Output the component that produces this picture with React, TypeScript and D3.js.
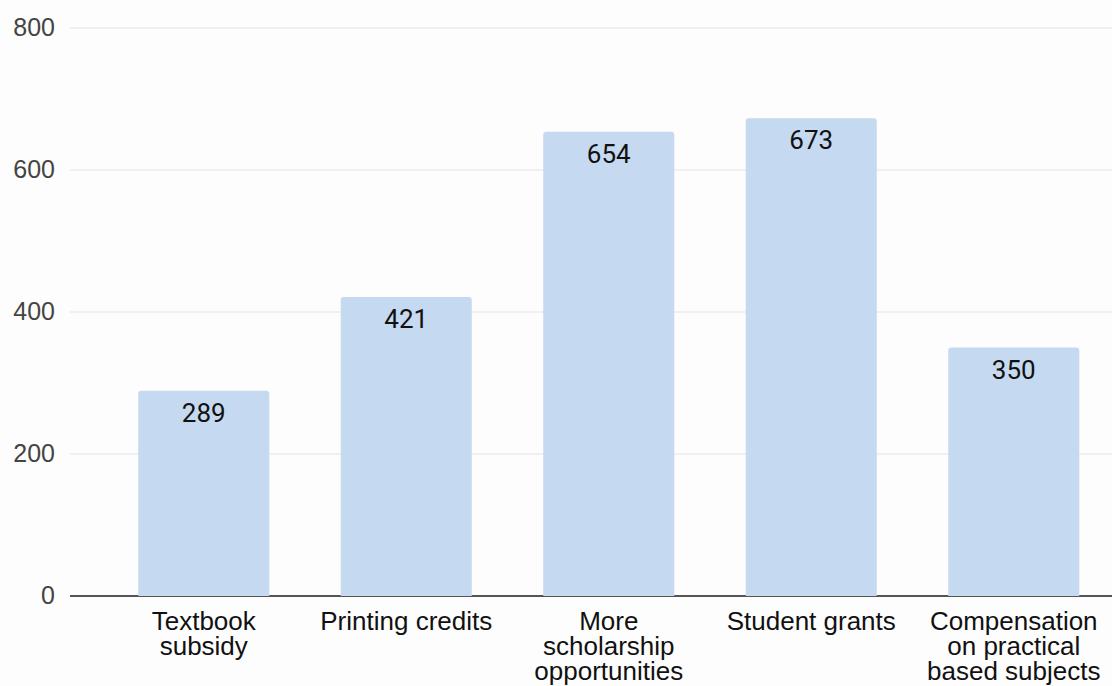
import React from "react";
import * as d3 from "d3";

const categories: string[][] = [
  ["Textbook", "subsidy"],
  ["Printing credits"],
  ["More", "scholarship", "opportunities"],
  ["Student grants"],
  ["Compensation", "on practical", "based subjects"],
];
const values: number[] = [289, 421, 654, 673, 350];
const yTicks: number[] = [0, 200, 400, 600, 800];

const W = 1112;
const H = 686;

export default function App() {
  const keys = categories.map((c) => c.join(" "));
  const x = d3.scaleBand<string>().domain(keys).range([102.5, 1115]).paddingInner(0.353).paddingOuter(0.1765);
  const y = d3.scaleLinear().domain([0, 800]).range([596, 28]);
  const r = 3;
  const barPath = (x0: number, y0: number, w: number, h: number) => {
    const p = d3.path();
    p.moveTo(x0, y0 + h);
    p.lineTo(x0, y0 + r);
    p.arcTo(x0, y0, x0 + r, y0, r);
    p.lineTo(x0 + w - r, y0);
    p.arcTo(x0 + w, y0, x0 + w, y0 + r, r);
    p.lineTo(x0 + w, y0 + h);
    p.closePath();
    return p.toString();
  };
  return (
    <svg width={W} height={H} style={{ position: "absolute", left: 0, top: 0, background: "#fdfdfd" }}>
      {yTicks.map((t) => (
        <g key={t}>
          {t !== 0 && <line x1={70} x2={W} y1={y(t)} y2={y(t)} stroke="#ebebeb" strokeWidth={1.5} />}
          <text x={55} y={y(t) + 8} textAnchor="end" fontFamily="Liberation Sans, Arial, sans-serif" fontSize={25} fill="#444">
            {t}
          </text>
        </g>
      ))}
      <line x1={70} x2={W} y1={y(0)} y2={y(0)} stroke="#555" strokeWidth={2} />
      {values.map((v, i) => {
        const k = keys[i];
        const bx = x(k)!;
        const bw = x.bandwidth();
        return (
          <g key={k}>
            <path d={barPath(bx, y(v), bw, y(0) - y(v))} fill="#c5d9f0" />
            <text x={bx + bw / 2} y={y(v) + 31} textAnchor="middle" fontFamily="Roboto, sans-serif" fontSize={26} fill="#111">
              {v}
            </text>
            {categories[i].map((line, j) => (
              <text key={j} x={bx + bw / 2} y={630 + j * 25} textAnchor="middle" fontFamily="Liberation Sans, Arial, sans-serif" fontSize={26} fill="#111">
                {line}
              </text>
            ))}
          </g>
        );
      })}
    </svg>
  );
}
